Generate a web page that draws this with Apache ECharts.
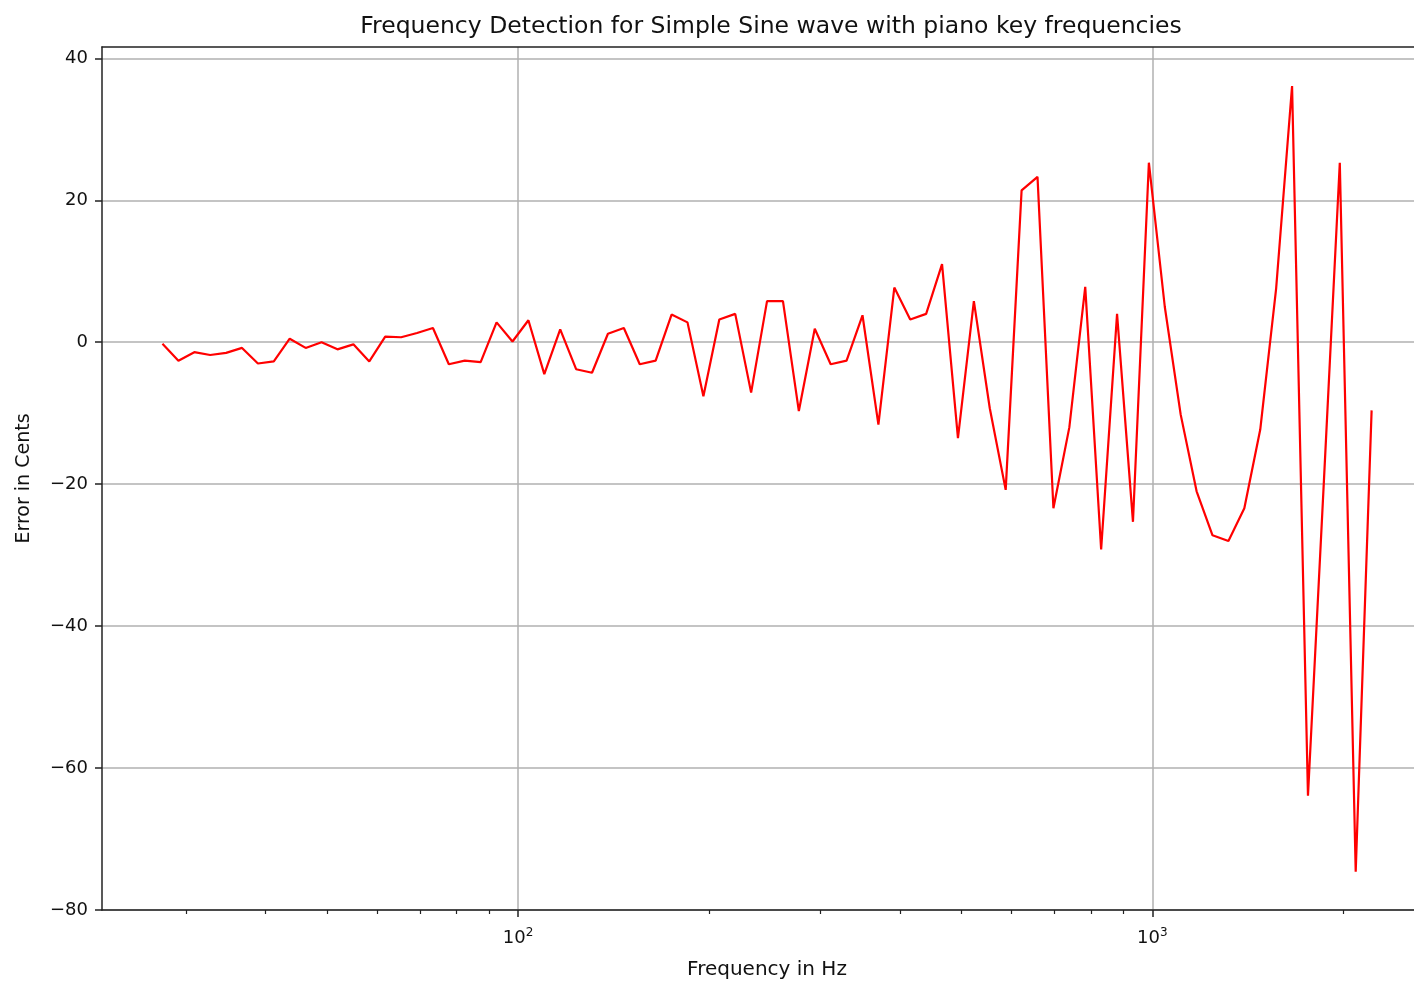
<!DOCTYPE html>
<html>
<head>
<meta charset="utf-8">
<title>Frequency Detection</title>
<script src="https://cdn.jsdelivr.net/npm/echarts@6/dist/echarts.min.js"></script>
<style>
  html, body { margin: 0; padding: 0; background: #fff; overflow: hidden; }
  #chart { width: 1440px; height: 981px; }
</style>
</head>
<body>
<div id="chart"></div>
<script>
// piano key frequencies (Hz), A0 .. C#7
const keyFreqs = [
  27.50, 29.14, 30.87, 32.70, 34.65, 36.71, 38.89, 41.20, 43.65, 46.25,
  49.00, 51.91, 55.00, 58.27, 61.74, 65.41, 69.30, 73.42, 77.78, 82.41,
  87.31, 92.50, 98.00, 103.83, 110.00, 116.54, 123.47, 130.81, 138.59, 146.83,
  155.56, 164.81, 174.61, 185.00, 196.00, 207.65, 220.00, 233.08, 246.94, 261.63,
  277.18, 293.66, 311.13, 329.63, 349.23, 369.99, 392.00, 415.30, 440.00, 466.16,
  493.88, 523.25, 554.37, 587.33, 622.25, 659.26, 698.46, 739.99, 783.99, 830.61,
  880.00, 932.33, 987.77, 1046.50, 1108.73, 1174.66, 1244.51, 1318.51, 1396.91, 1479.98,
  1567.98, 1661.22, 1760.00, 1864.66, 1975.53, 2093.00, 2217.46
]

// detection error in cents, one per key
const errorCents = [
  -0.2, -2.6, -1.4, -1.8, -1.5, -0.8, -3.0, -2.7, 0.5, -0.8,
  0.0, -1.0, -0.3, -2.7, 0.8, 0.7, 1.3, 2.0, -3.1, -2.6,
  -2.8, 2.8, 0.1, 3.1, -4.5, 1.8, -3.8, -4.3, 1.2, 2.0,
  -3.1, -2.6, 3.9, 2.8, -7.6, 3.2, 4.0, -7.1, 5.8, 5.8,
  -9.7, 1.9, -3.1, -2.6, 3.8, -11.6, 7.7, 3.2, 4.0, 11.0,
  -13.5, 5.8, -9.3, -20.8, 21.4, 23.3, -23.4, -12.0, 7.8, -29.2,
  4.0, -25.3, 25.3, 5.0, -10.2, -21.0, -27.2, -28.0, -23.4, -12.3,
  7.6, 36.1, -63.9, -19.6, 25.3, -74.6, -9.6
]

// axis ticks
const xMajorTicks = [100, 1000]
const xTickExponents = ['2', '3']
const xMinorTicks = [30, 40, 50, 60, 70, 80, 90, 200, 300, 400, 500, 600, 700, 800, 900, 2000]
const yTicks = [-80, -60, -40, -20, 0, 20, 40]

const FONT = 'DejaVu Sans'
const GRID_COLOR = '#b0b0b0'
const SPINE_COLOR = '#222'

const chart = echarts.init(document.getElementById('chart'))

const seriesData = keyFreqs.map((f, i) => [f, errorCents[i]])

const xRange = { min: 22.08, max: 2761 }

const option = {
  animation: false,
  backgroundColor: '#fff',
  textStyle: { fontFamily: FONT },
  title: {
    text: 'Frequency Detection for Simple Sine wave with piano key frequencies',
    left: 766,
    top: 10,
    textAlign: 'center',
    textStyle: { fontFamily: FONT, fontSize: 23.5, fontWeight: 'normal', color: '#111' }
  },
  grid: {
    left: 102,
    top: 47,
    width: 1330,
    height: 863,
    containLabel: false,
    outerBoundsMode: 'none'
  },
  xAxis: [
    {
      type: 'log',
      logBase: 10,
      min: xRange.min,
      max: xRange.max,
      position: 'bottom',
      name: 'Frequency in Hz',
      nameLocation: 'middle',
      nameGap: 50,
      nameTextStyle: { fontFamily: FONT, fontSize: 20, color: '#111' },
      axisLine: { onZero: false, lineStyle: { color: SPINE_COLOR, width: 1.5 } },
      axisTick: { customValues: xMajorTicks, length: 7, lineStyle: { color: SPINE_COLOR, width: 1.5 } },
      axisLabel: {
        customValues: xMajorTicks,
        margin: 17,
        formatter: (v) => {
          const k = xMajorTicks.indexOf(Math.round(v))
          return '{b|10}{s|' + (k >= 0 ? xTickExponents[k] : '') + '}'
        },
        rich: {
          b: { fontFamily: FONT, fontSize: 18, color: '#111' },
          s: { fontFamily: FONT, fontSize: 12, color: '#111', verticalAlign: 'top', padding: [0, 0, 10, 0] }
        }
      },
      splitLine: { show: true, lineStyle: { color: GRID_COLOR, width: 1.5 } }
    },
    {
      // minor ticks
      type: 'log',
      logBase: 10,
      min: xRange.min,
      max: xRange.max,
      position: 'bottom',
      axisLine: { show: false, onZero: false },
      axisTick: { customValues: xMinorTicks, length: 4, lineStyle: { color: SPINE_COLOR, width: 1.2 } },
      axisLabel: { show: false },
      splitLine: { show: false }
    },
    {
      // top spine
      type: 'log',
      logBase: 10,
      min: xRange.min,
      max: xRange.max,
      position: 'top',
      axisLine: { show: true, onZero: false, lineStyle: { color: SPINE_COLOR, width: 1.5 } },
      axisTick: { show: false },
      axisLabel: { show: false },
      splitLine: { show: false }
    }
  ],
  yAxis: [
    {
      type: 'value',
      min: -80,
      max: 41.6,
      name: 'Error in Cents',
      nameLocation: 'middle',
      nameGap: 68,
      nameTextStyle: { fontFamily: FONT, fontSize: 19, color: '#111' },
      axisLine: { show: true, onZero: false, lineStyle: { color: SPINE_COLOR, width: 1.5 } },
      axisTick: { show: true, customValues: yTicks, length: 7, lineStyle: { color: SPINE_COLOR, width: 1.5 } },
      axisLabel: {
        customValues: yTicks,
        margin: 14,
        fontFamily: FONT,
        fontSize: 18,
        color: '#111',
        formatter: (v) => String(v).replace('-', '\u2212')
      },
      splitLine: { show: true, lineStyle: { color: GRID_COLOR, width: 1.5 } }
    },
    {
      // right spine
      type: 'value',
      min: -80,
      max: 41.6,
      position: 'right',
      axisLine: { show: true, onZero: false, lineStyle: { color: SPINE_COLOR, width: 1.5 } },
      axisTick: { show: false },
      axisLabel: { show: false },
      splitLine: { show: false }
    }
  ],
  series: [
    {
      type: 'line',
      xAxisIndex: 0,
      yAxisIndex: 0,
      data: seriesData,
      showSymbol: false,
      lineStyle: { color: '#ff0000', width: 2.2 },
      z: 5
    }
  ]
}

chart.setOption(option)
</script>
</body>
</html>
